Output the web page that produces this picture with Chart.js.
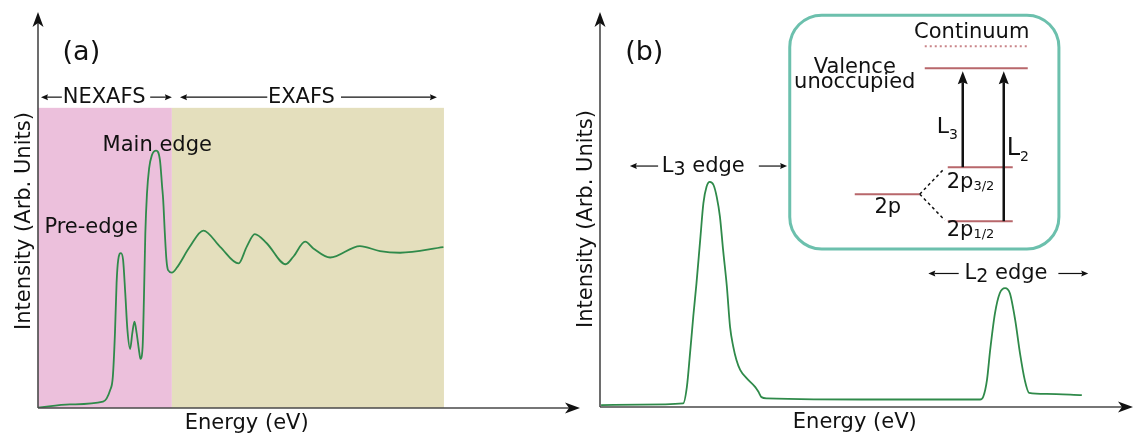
<!DOCTYPE html>
<html>
<head>
<meta charset="utf-8">
<script src="https://cdn.jsdelivr.net/npm/chart.js@4.4.1/dist/chart.umd.min.js"></script>
<style>
  html, body { margin: 0; padding: 0; background: #fff; }
  #wrap { position: relative; width: 1135px; height: 436px; overflow: hidden; }
  canvas { position: absolute; top: 0; }
  #chartA { left: 0; }
  #chartB { left: 560px; }
</style>
</head>
<body>
<div id="wrap">
  <canvas id="chartA" width="590" height="436"></canvas>
  <canvas id="chartB" width="575" height="436"></canvas>
</div>
<script>
/* ---- (a) K-edge absorption spectrum (arb. units, 0-100 on both axes) ---- */
const energyA = [0, 5.9, 12.0, 13.3, 13.8, 14.2, 14.5, 14.8, 15.3, 15.7,
  16.1, 16.5, 17.0, 17.4, 17.8, 18.2, 18.7, 18.9, 19.3, 19.55,
  19.8, 20.1, 20.5, 21.0, 21.8, 22.5, 22.9, 23.1, 23.4, 23.7,
  24.0, 24.7, 25.6, 28.0, 30.5, 33.6, 37.0, 38.5, 40.0, 42.2,
  45.7, 47.1, 49.3, 50.8, 53.9, 59.4, 63.1, 66.8, 74.8];
const intensityA = [0.1, 0.9, 1.6, 4.5, 7.8, 18.9, 31.6, 37.4, 39.1, 37.4,
  29.0, 19.7, 14.9, 18.9, 21.8, 18.9, 13.9, 12.4, 15.4, 28.0,
  44.0, 54.0, 60.5, 63.8, 65.0, 62.6, 55.9, 52.5, 44.2, 37.4,
  34.8, 34.2, 35.4, 40.7, 44.8, 40.7, 36.5, 40.7, 43.9, 41.6,
  36.3, 38.2, 42.0, 40.3, 38.0, 40.9, 39.6, 39.2, 40.6];
const nexafsRange = [0, 24.7];
const exafsRange = [24.7, 74.9];
const regionTop = 75.8;

/* ---- (b) L-edge absorption spectrum ---- */
const energyB = [0.2, 7.5, 15.6, 16.3, 16.9, 17.5, 18.1, 18.8, 19.4, 20.0,
  20.6, 21.3, 21.9, 22.5, 23.1, 23.8, 24.4, 25.0, 25.6, 26.3,
  27.5, 29.1, 29.7, 30.3, 31.3, 52.5, 71.3, 71.9, 72.6, 73.2,
  74.1, 75.0, 76.0, 76.9, 77.9, 78.8, 79.7, 80.5, 83.8, 90.4];
const intensityB = [0.5, 0.6, 0.9, 5.1, 13.7, 22.9, 31.3, 42.3, 51.6, 55.8,
  57.0, 56.2, 53.2, 48.2, 39.7, 30.5, 20.3, 15.3, 11.9, 9.4,
  7.3, 5.1, 3.9, 2.5, 2.2, 1.9, 1.9, 2.6, 6.8, 14.4,
  23.7, 28.8, 30.1, 28.8, 22.0, 13.6, 6.8, 3.6, 3.3, 3.0];

const FONT = '"DejaVu Sans", Verdana, sans-serif';
const CURVE = '#2f8a4a';
const LEVEL = '#b8676b';

function toPoints(xs, ys) {
  return xs.map((x, i) => ({ x, y: ys[i] }));
}

function head(ctx, x, y, angle, len, half, notch) {
  ctx.save();
  ctx.translate(x, y);
  ctx.rotate(angle);
  ctx.beginPath();
  ctx.moveTo(0, 0);
  ctx.lineTo(-len, -half);
  ctx.lineTo(-len + notch, 0);
  ctx.lineTo(-len, half);
  ctx.closePath();
  ctx.fill();
  ctx.restore();
}

// straight arrow from (x1,y1) to tip (x2,y2)
function arrow(ctx, x1, y1, x2, y2, width, len, half, notch) {
  const ang = Math.atan2(y2 - y1, x2 - x1);
  ctx.lineWidth = width;
  ctx.beginPath();
  ctx.moveTo(x1, y1);
  ctx.lineTo(x2 - Math.cos(ang) * (len - notch), y2 - Math.sin(ang) * (len - notch));
  ctx.stroke();
  head(ctx, x2, y2, ang, len, half, notch);
}

function text(ctx, str, x, y, size, align) {
  ctx.font = `${size}px ${FONT}`;
  ctx.textAlign = align || 'center';
  ctx.textBaseline = 'middle';
  ctx.fillText(str, x, y);
}

// main text with a lowered index, starting at x; returns end x
function indexed(ctx, main, sub, x, y, size, subSize, drop) {
  ctx.font = `${size}px ${FONT}`;
  ctx.textAlign = 'left';
  ctx.textBaseline = 'middle';
  ctx.fillText(main, x, y);
  const w = ctx.measureText(main).width;
  ctx.font = `${subSize}px ${FONT}`;
  ctx.fillText(sub, x + w, y + drop);
  return x + w + ctx.measureText(sub).width;
}

function drawFrame(chart, xLabelAt, yLabelAt) {
  const { ctx, chartArea: a, scales: { x, y } } = chart;
  ctx.save();
  ctx.strokeStyle = '#4a4a4a';
  ctx.fillStyle = '#111';
  ctx.lineWidth = 1.6;
  ctx.beginPath();
  ctx.moveTo(a.left, a.bottom);
  ctx.lineTo(a.left, a.top + 10);
  ctx.moveTo(a.left, a.bottom);
  ctx.lineTo(a.right - 10, a.bottom);
  ctx.stroke();
  head(ctx, a.left, a.top, -Math.PI / 2, 15, 5.5, 4);
  head(ctx, a.right, a.bottom, 0, 15, 5.5, 4);

  ctx.fillStyle = '#111';
  text(ctx, 'Energy (eV)', x.getPixelForValue(xLabelAt), a.bottom + 16, 21);
  ctx.save();
  ctx.translate(a.left - 13, y.getPixelForValue(yLabelAt));
  ctx.rotate(-Math.PI / 2);
  text(ctx, 'Intensity (Arb. Units)', 0, 0, 21);
  ctx.restore();
  ctx.restore();
}

/* shaded NEXAFS / EXAFS windows behind the curve */
const regionsPlugin = {
  id: 'regions',
  beforeDatasetsDraw(chart) {
    const { ctx, scales: { x, y } } = chart;
    const top = y.getPixelForValue(regionTop);
    const bot = y.getPixelForValue(0);
    ctx.save();
    ctx.fillStyle = '#ecc0dc';
    ctx.fillRect(x.getPixelForValue(nexafsRange[0]), top,
      x.getPixelForValue(nexafsRange[1]) - x.getPixelForValue(nexafsRange[0]), bot - top);
    ctx.fillStyle = '#e4dfbd';
    ctx.fillRect(x.getPixelForValue(exafsRange[0]), top,
      x.getPixelForValue(exafsRange[1]) - x.getPixelForValue(exafsRange[0]), bot - top);
    ctx.restore();
  }
};

const labelsA = {
  id: 'labelsA',
  afterDatasetsDraw(chart) {
    const { ctx, scales: { x, y } } = chart;
    drawFrame(chart, 38.5, 47.2);
    ctx.save();
    ctx.fillStyle = '#111';
    ctx.strokeStyle = '#111';
    text(ctx, '(a)', x.getPixelForValue(8.0), y.getPixelForValue(89.6), 27);

    const row = y.getPixelForValue(78.5);
    arrow(ctx, x.getPixelForValue(4.4), row, x.getPixelForValue(0.55), row, 1.2, 7, 3, 1);
    text(ctx, 'NEXAFS', x.getPixelForValue(12.2), row, 21);
    arrow(ctx, x.getPixelForValue(20.7), row, x.getPixelForValue(24.7), row, 1.2, 7, 3, 1);
    arrow(ctx, x.getPixelForValue(42.3), row, x.getPixelForValue(26.2), row, 1.2, 7, 3, 1);
    text(ctx, 'EXAFS', x.getPixelForValue(48.6), row, 21);
    arrow(ctx, x.getPixelForValue(55.9), row, x.getPixelForValue(73.6), row, 1.2, 7, 3, 1);

    text(ctx, 'Main edge', x.getPixelForValue(22.0), y.getPixelForValue(66.2), 21);
    text(ctx, 'Pre-edge', x.getPixelForValue(9.8), y.getPixelForValue(45.5), 21);
    ctx.restore();
  }
};

const labelsB = {
  id: 'labelsB',
  afterDatasetsDraw(chart) {
    const { ctx, scales: { x, y } } = chart;
    drawFrame(chart, 47.8, 47.6);
    ctx.save();
    ctx.fillStyle = '#111';
    ctx.strokeStyle = '#111';
    text(ctx, '(b)', x.getPixelForValue(8.3), y.getPixelForValue(89.6), 27);

    // edge markers
    let row = y.getPixelForValue(61.0);
    arrow(ctx, x.getPixelForValue(10.9), row, x.getPixelForValue(5.6), row, 1.2, 7, 3, 1);
    let end = indexed(ctx, 'L', '3', x.getPixelForValue(11.6), row, 21, 19, 4);
    text(ctx, ' edge', end, row, 21, 'left');
    arrow(ctx, x.getPixelForValue(29.8), row, x.getPixelForValue(35.1), row, 1.2, 7, 3, 1);

    row = y.getPixelForValue(33.8);
    arrow(ctx, x.getPixelForValue(67.3), row, x.getPixelForValue(61.6), row, 1.2, 7, 3, 1);
    end = indexed(ctx, 'L', '2', x.getPixelForValue(68.4), row, 21, 19, 4);
    text(ctx, ' edge', end, row, 21, 'left');
    arrow(ctx, x.getPixelForValue(86.0), row, x.getPixelForValue(91.6), row, 1.2, 7, 3, 1);

    // energy level scheme inset
    const bx = x.getPixelForValue(35.6), by = y.getPixelForValue(99.2);
    const bw = x.getPixelForValue(86.1) - bx, bh = y.getPixelForValue(40.0) - by;
    ctx.fillStyle = '#fff';
    ctx.strokeStyle = '#6cc0ad';
    ctx.lineWidth = 3;
    ctx.beginPath();
    ctx.roundRect(bx, by, bw, bh, 32);
    ctx.fill();
    ctx.stroke();

    ctx.translate(bx, by);
    ctx.fillStyle = '#111';
    text(ctx, 'Continuum', 182, 17, 21);
    text(ctx, 'Valence', 65, 52, 21);
    text(ctx, 'unoccupied', 65, 67, 21);

    ctx.strokeStyle = '#c98589';
    ctx.lineWidth = 2;
    ctx.setLineDash([2, 3]);
    ctx.beginPath(); ctx.moveTo(135, 31); ctx.lineTo(238, 31); ctx.stroke();
    ctx.setLineDash([]);

    ctx.strokeStyle = LEVEL;
    ctx.beginPath();
    ctx.moveTo(135, 53); ctx.lineTo(238, 53);
    ctx.moveTo(158, 152); ctx.lineTo(223, 152);
    ctx.moveTo(158, 206); ctx.lineTo(223, 206);
    ctx.moveTo(65, 179); ctx.lineTo(130, 179);
    ctx.stroke();

    ctx.strokeStyle = '#111';
    ctx.lineWidth = 1.5;
    ctx.setLineDash([3, 3]);
    ctx.beginPath();
    ctx.moveTo(130, 179); ctx.lineTo(155, 153);
    ctx.moveTo(130, 179); ctx.lineTo(155, 205);
    ctx.stroke();
    ctx.setLineDash([]);

    ctx.fillStyle = '#111';
    arrow(ctx, 173, 152, 173, 56, 2.5, 13, 5, 2);
    arrow(ctx, 214, 206, 214, 56, 2.5, 13, 5, 2);

    indexed(ctx, 'L', '3', 147, 112, 22, 14, 8);
    indexed(ctx, 'L', '2', 217, 134, 24, 14, 8);

    text(ctx, '2p', 98, 192, 21);
    indexed(ctx, '2p', '3/2', 157, 167, 21, 13, 4);
    indexed(ctx, '2p', '1/2', 157, 215, 21, 13, 4);
    ctx.restore();
  }
};

function makeChart(id, xs, ys, padding, plugins) {
  return new Chart(document.getElementById(id), {
    type: 'line',
    data: {
      datasets: [{
        data: toPoints(xs, ys),
        borderColor: CURVE,
        borderWidth: 1.8,
        pointRadius: 0,
        fill: false,
        cubicInterpolationMode: 'monotone'
      }]
    },
    options: {
      responsive: false,
      animation: false,
      devicePixelRatio: 1,
      layout: { padding },
      plugins: { legend: { display: false }, tooltip: { enabled: false } },
      scales: {
        x: { type: 'linear', min: 0, max: 100, display: false },
        y: { min: 0, max: 100, display: false }
      }
    },
    plugins
  });
}

makeChart('chartA', energyA, intensityA,
  { left: 38, top: 12, right: 10, bottom: 28 }, [regionsPlugin, labelsA]);
makeChart('chartB', energyB, intensityB,
  { left: 40, top: 12, right: 2, bottom: 29 }, [labelsB]);
</script>
</body>
</html>
